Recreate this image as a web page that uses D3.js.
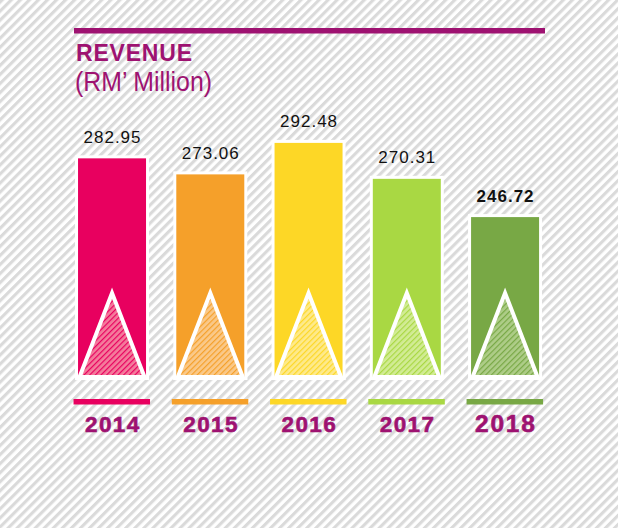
<!DOCTYPE html>
<html lang="en">
<head>
<meta charset="UTF-8">
<title>Revenue</title>
<script src="https://d3js.org/d3.v7.min.js"></script>
<style>
  body { margin: 0; }
  svg { display: block; font-family: "Liberation Sans", Arial, sans-serif; }
</style>
</head>
<body>
<div id="chart"></div>
<script>
// values
const years = ["2014", "2015", "2016", "2017", "2018"];
const revenue = [282.95, 273.06, 292.48, 270.31, 246.72];
const barColors = ["#e8005f", "#f5a02a", "#fdd726", "#a9d843", "#78a845"];
const hatchFill = ["#f47d9c", "#fac98a", "#feea8c", "#d2ec95", "#aecd88"];
const title = "REVENUE";
const unit = "(RM\u2019 Million)";

const W = 618, H = 528;
const magenta = "#9e1271";
const last = years.length - 1;

const svg = d3.select("#chart").append("svg")
  .attr("width", W).attr("height", H);

const defs = svg.append("defs");

// diagonal striped background
const bg = defs.append("pattern")
  .attr("id", "bgStripe")
  .attr("patternUnits", "userSpaceOnUse")
  .attr("width", 6.4).attr("height", 6.4)
  .attr("patternTransform", "rotate(45)");
bg.append("rect").attr("width", 6.4).attr("height", 6.4).attr("fill", "#ffffff");
bg.append("rect").attr("width", 3.1).attr("height", 6.4).attr("fill", "#dadada");

// hatches for the triangles
years.forEach((y, i) => {
  const p = defs.append("pattern")
    .attr("id", "hatch" + i)
    .attr("patternUnits", "userSpaceOnUse")
    .attr("width", 4).attr("height", 4)
    .attr("patternTransform", "rotate(45)");
  p.append("rect").attr("width", 4).attr("height", 4).attr("fill", hatchFill[i]);
  p.append("rect").attr("width", 1.2).attr("height", 4).attr("fill", barColors[i]);
});

svg.append("rect").attr("width", W).attr("height", H).attr("fill", "url(#bgStripe)");

// header
svg.append("rect")
  .attr("x", 74).attr("y", 28)
  .attr("width", 471).attr("height", 5.5)
  .attr("fill", magenta);
svg.append("text")
  .attr("x", 76).attr("y", 61)
  .attr("fill", magenta)
  .style("font-size", "23px")
  .style("font-weight", "bold")
  .style("letter-spacing", "0.8px")
  .text(title);
svg.append("text")
  .attr("x", 75).attr("y", 91)
  .attr("fill", magenta)
  .attr("textLength", 137)
  .attr("lengthAdjust", "spacingAndGlyphs")
  .style("font-size", "27px")
  .text(unit);

// scales
const x = d3.scaleBand()
  .domain(years)
  .range([62.9, 554.2])
  .paddingInner(0.308)
  .paddingOuter(0.154);
const y = d3.scaleLinear()
  .domain([148.1, 300])
  .range([377, 130.7]);

const data = years.map((yr, i) => ({ year: yr, value: revenue[i], i: i }));
const bw = x.bandwidth();

const g = svg.selectAll(".bar")
  .data(data)
  .enter().append("g")
  .attr("class", "bar");

// white frame behind each bar
g.append("rect")
  .attr("x", d => x(d.year) - 3)
  .attr("y", d => y(d.value) - 3)
  .attr("width", bw + 6)
  .attr("height", d => y.range()[0] - y(d.value) + 6)
  .attr("fill", "#ffffff");

g.append("rect")
  .attr("x", d => x(d.year))
  .attr("y", d => y(d.value))
  .attr("width", bw)
  .attr("height", d => y.range()[0] - y(d.value))
  .attr("fill", d => barColors[d.i]);

// triangle in the bar
g.append("path")
  .attr("d", d => {
    const x0 = x(d.year), base = y.range()[0];
    return "M" + (x0 + 1.5) + "," + base +
      "L" + (x0 + bw / 2) + ",293" +
      "L" + (x0 + bw - 1.5) + "," + base + "Z";
  })
  .attr("fill", d => "url(#hatch" + d.i + ")")
  .attr("stroke", "#ffffff")
  .attr("stroke-width", 4)
  .attr("stroke-linejoin", "miter");

// white strip under the bar
g.append("rect")
  .attr("x", d => x(d.year) - 3)
  .attr("y", y.range()[0])
  .attr("width", bw + 6)
  .attr("height", 3)
  .attr("fill", "#ffffff");

// value labels
g.append("text")
  .attr("x", d => x(d.year) + bw / 2 + 0.5)
  .attr("y", d => y(d.value) - 15.5)
  .attr("text-anchor", "middle")
  .attr("fill", "#111111")
  .style("font-size", "17px")
  .style("letter-spacing", "1px")
  .style("font-weight", d => d.i === last ? "bold" : "normal")
  .text(d => d.value.toFixed(2));

// coloured underline and year
g.append("rect")
  .attr("x", d => x(d.year) - 4.5)
  .attr("y", 399)
  .attr("width", bw + 8.5)
  .attr("height", 5.5)
  .attr("fill", d => barColors[d.i]);

g.append("text")
  .attr("x", d => x(d.year) + bw / 2 + 0.8)
  .attr("y", 431.5)
  .attr("text-anchor", "middle")
  .attr("fill", magenta)
  .attr("stroke", magenta)
  .attr("stroke-width", 0.6)
  .style("font-size", d => d.i === last ? "24.5px" : "22.5px")
  .style("font-weight", "bold")
  .style("letter-spacing", d => d.i === last ? "1.8px" : "1.4px")
  .text(d => d.year);
</script>
</body>
</html>
